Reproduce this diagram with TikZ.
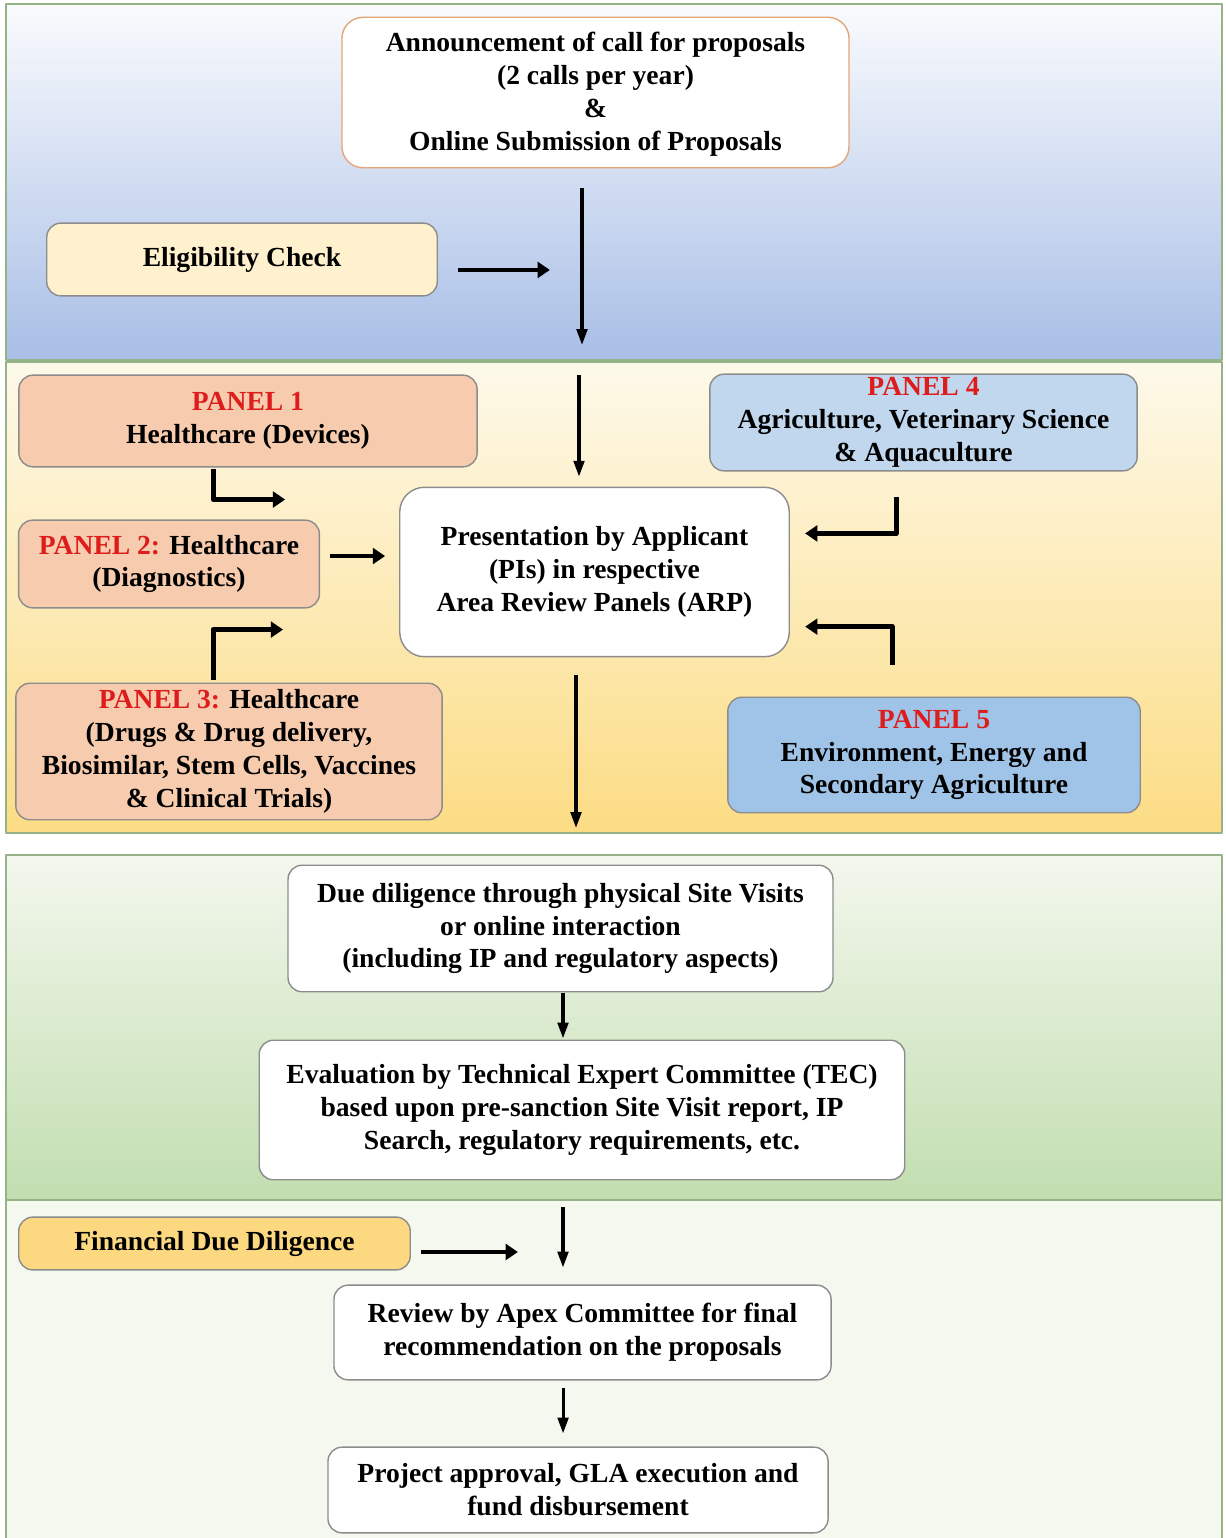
\documentclass[tikz,border=0pt]{standalone}
\usepackage{fontspec}
\setmainfont{Liberation Serif}
\usetikzlibrary{arrows.meta}

\definecolor{bandedge}{RGB}{150,178,135}
\definecolor{salmon}{RGB}{246,203,174}
\definecolor{lightblue}{RGB}{192,215,237}
\definecolor{midblue}{RGB}{160,196,232}
\definecolor{cream}{RGB}{255,241,205}
\definecolor{gold}{RGB}{252,217,128}
\definecolor{panelred}{RGB}{222,28,28}
\def\pxu{0.567pt}

\begin{document}
\begin{tikzpicture}[x=0.02cm, y=-0.02cm, line join=round,
    font=\bfseries\fontsize{15.7}{18.7}\selectfont,
    box/.style={draw=black!45, line width=0.8pt, rounded corners=8pt, align=center, inner sep=0pt, fill=white},
    sz/.style 2 args={minimum width=#1*\pxu, minimum height=#2*\pxu},
    thin/.style={-{Triangle[length=9pt,width=6pt]}, line width=1.8pt},
    thick/.style={-{Triangle[length=7pt,width=9pt]}, line width=2.8pt},
    band/.style={draw=bandedge, line width=0.7pt}]
\useasboundingbox (0,0) rectangle (1225,1538);

% background bands
\shade[top color={rgb,255:red,250;green,251;blue,253}, middle color={rgb,255:red,203;green,216;blue,238}, bottom color={rgb,255:red,168;green,190;blue,230}] (6,4) rectangle (1222,360);
\draw[band] (6,4) rectangle (1222,360);
\shade[top color={rgb,255:red,253;green,249;blue,234}, middle color={rgb,255:red,254;green,235;blue,176}, bottom color={rgb,255:red,252;green,220;blue,132}] (6,362) rectangle (1222,833);
\draw[band] (6,362) rectangle (1222,833);
\shade[top color={rgb,255:red,243;green,247;blue,237}, bottom color={rgb,255:red,194;green,222;blue,176}] (6,855) rectangle (1222,1200);
\draw[band] (6,855) rectangle (1222,1200);
\fill[fill={rgb,255:red,244;green,248;blue,239}] (6,1200) rectangle (1222,1538);
\draw[band] (6,1538) -- (6,1200) -- (1222,1200) -- (1222,1538);

% boxes
\node[box, sz={509}{151}, draw={rgb,255:red,228;green,166;blue,120}, rounded corners=12pt] (ann) at (595.5,92.5)
    {\strut Announcement of call for proposals\\(2 calls per year)\\\&\\Online Submission of Proposals};
\node[box, sz={392}{73}, fill=cream] (elig) at (242,259.5) {Eligibility Check};

\node[box, sz={460}{92}, fill=salmon] (pone) at (248,421)
    {\textcolor{panelred}{PANEL 1}\\Healthcare (Devices)};
\node[box, sz={429}{97}, fill=lightblue] (pfour) at (923.5,422.5)
    {\textcolor{panelred}{PANEL 4}\\Agriculture, Veterinary Science\\\& Aquaculture};
\node[box, sz={391}{170}, rounded corners=14pt] (pres) at (594.5,572)
    {Presentation by Applicant\\(PIs) in respective\\Area Review Panels (ARP)};
\node[box, sz={302}{88}, fill=salmon] (ptwo) at (169,564)
    {\textcolor{panelred}{PANEL 2:} Healthcare\\(Diagnostics)};
\node[box, sz={428}{137}, fill=salmon] (pthree) at (229,751.5)
    {\textcolor{panelred}{PANEL 3:} Healthcare\\(Drugs \& Drug delivery,\\Biosimilar, Stem Cells, Vaccines\\\& Clinical Trials)};
\node[box, sz={414}{116}, fill=midblue] (pfive) at (934,755)
    {\textcolor{panelred}{PANEL 5}\\Environment, Energy and\\Secondary Agriculture};

\node[box, sz={547}{127}] (due) at (560.5,928.5)
    {Due diligence through physical Site Visits\\or online interaction\\(including IP and regulatory aspects)};
\node[box, sz={648}{140}] (tec) at (582,1110)
    {Evaluation by Technical Expert Committee (TEC)\\based upon pre-sanction Site Visit report, IP\\Search, regulatory requirements, etc.};

\node[box, sz={393}{53}, fill=gold] (fin) at (214.5,1243.5) {Financial Due Diligence};
\node[box, sz={499}{95}] (apex) at (582.5,1332.5)
    {Review by Apex Committee for final\\recommendation on the proposals};
\node[box, sz={502}{86}] (grant) at (578,1490)
    {Project approval, GLA execution and\\fund disbursement};

% connectors
\coordinate (topin) at (582,188);
\coordinate (topout) at (582,345);
\draw[thin] (topin) -- (topout);
\draw[thick] ([xshift=20*\pxu, yshift=-10.5*\pxu]elig.east) -- ++(92,0);

\coordinate (midin) at (579,375);
\draw[thin] (midin) -- ([yshift=10*\pxu]midin |- pres.north);
\draw[thick] ([xshift=-35*\pxu, yshift=-1*\pxu]pone.south) -- ++(0,31) -- ++(72,0);
\draw[thick] ([xshift=10*\pxu, yshift=8*\pxu]ptwo.east) -- ++(55,0);
\draw[thick] ([xshift=-16*\pxu, yshift=3*\pxu]pthree.north) -- ++(0,-50) -- ++(70,0);
\draw[thick] ([xshift=-27.5*\pxu, yshift=-26*\pxu]pfour.south) -- ++(0,36) -- ++(-91,0);
\draw[thick] ([xshift=-42*\pxu, yshift=32*\pxu]pfive.north) -- ++(0,-38) -- ++(-87,0);
\coordinate (midout) at (576,828);
\draw[thin] ([yshift=-18*\pxu]pres.south -| midout) -- (midout);

\draw[thin] ([xshift=2.5*\pxu, yshift=-1*\pxu]due.south) -- ++(0,45);

\coordinate (lowin) at (563,1207);
\draw[thin] (lowin) -- ([yshift=17*\pxu]lowin |- apex.north);
\draw[thick] ([xshift=10*\pxu, yshift=-8.5*\pxu]fin.east) -- ++(97,0);
\draw[thin] ([xshift=-19.5*\pxu, yshift=-7*\pxu]apex.south) -- ++(0,46);
\end{tikzpicture}
\end{document}
